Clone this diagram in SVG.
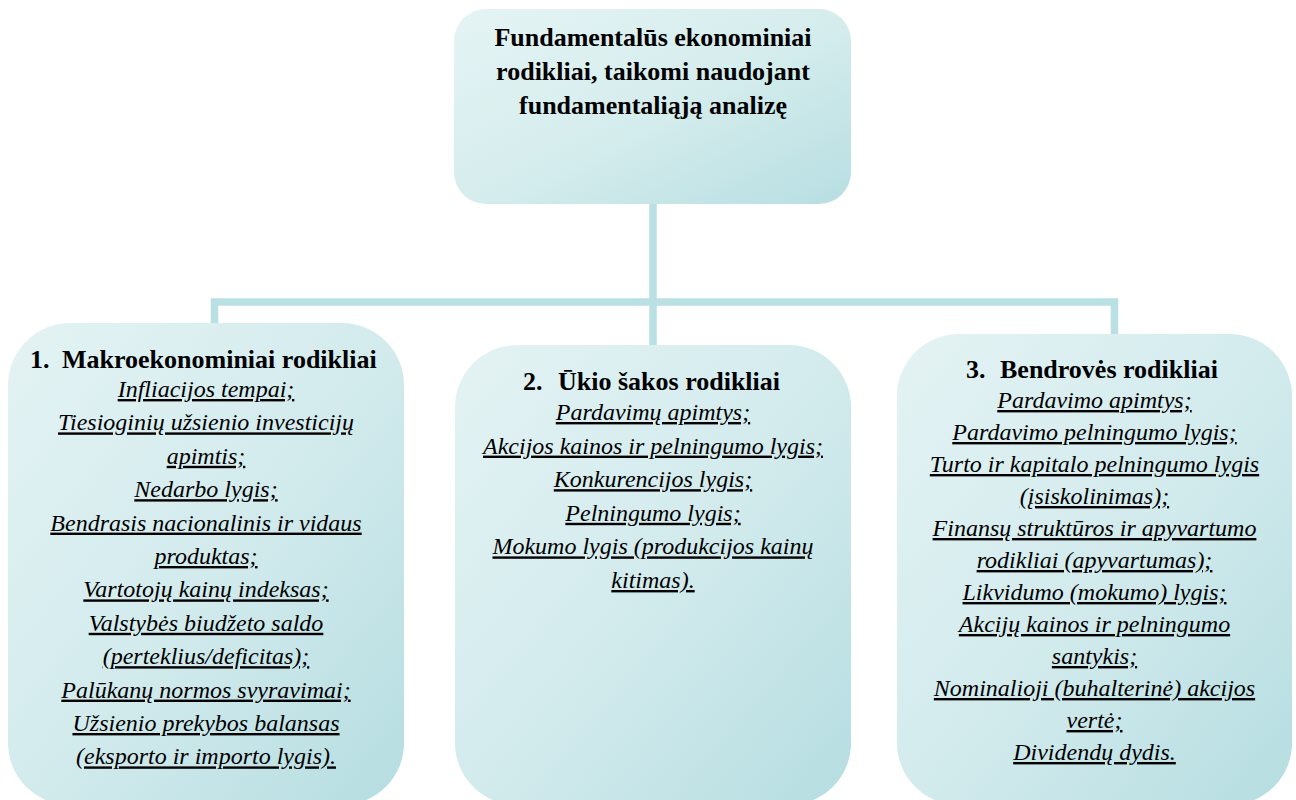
<svg xmlns="http://www.w3.org/2000/svg" width="1296" height="800" viewBox="0 0 1296 800">
  <defs>
    <linearGradient id="boxGrad" x1="0" y1="0" x2="1" y2="1">
      <stop offset="0" stop-color="#e4f3f4"/>
      <stop offset="0.5" stop-color="#d3ebed"/>
      <stop offset="1" stop-color="#b5dde1"/>
    </linearGradient>
    <linearGradient id="topGrad" x1="0" y1="0" x2="1" y2="1">
      <stop offset="0" stop-color="#e5f4f5"/>
      <stop offset="0.5" stop-color="#d6eded"/>
      <stop offset="1" stop-color="#b7dee2"/>
    </linearGradient>
  </defs>
  <style>
    .box { fill: url(#boxGrad); }
    .topbox { fill: url(#topGrad); }
    .conn { fill: none; stroke: #b9e0e3; stroke-width: 7.5; stroke-linejoin: miter; }
    .title { font-family: "Liberation Serif", "Times New Roman", serif; font-weight: bold; font-size: 26px; fill: #000; text-anchor: middle; }
    .head { font-family: "Liberation Serif", "Times New Roman", serif; font-weight: bold; font-size: 26px; fill: #000; }
    .item { font-family: "Liberation Serif", "Times New Roman", serif; font-style: italic; font-size: 24px; fill: #000; text-anchor: middle; text-decoration: underline; }
  </style>

  <g id="connectors">
    <path class="conn" d="M214.5,326 V302 H1114.5 V336"/>
    <path class="conn" d="M653,200 V348"/>
  </g>

  <g id="node-top">
    <rect class="topbox" x="454" y="9" width="397" height="195" rx="32" ry="32"/>
    <text class="title" x="653" y="46">Fundamentalūs ekonominiai</text>
    <text class="title" x="653" y="80">rodikliai, taikomi naudojant</text>
    <text class="title" x="653" y="114">fundamentaliąją analizę</text>
  </g>

  <g id="node-macro">
    <rect class="box" x="8" y="323" width="396" height="482" rx="62" ry="62"/>
    <text class="head" y="368"><tspan x="30">1.</tspan><tspan x="62">Makroekonominiai rodikliai</tspan></text>
    <text class="item" x="206" y="397">Infliacijos tempai;</text>
    <text class="item" x="206" y="430.4">Tiesioginių užsienio investicijų</text>
    <text class="item" x="206" y="463.8">apimtis;</text>
    <text class="item" x="206" y="497.2">Nedarbo lygis;</text>
    <text class="item" x="206" y="530.6">Bendrasis nacionalinis ir vidaus</text>
    <text class="item" x="206" y="564">produktas;</text>
    <text class="item" x="206" y="597.4">Vartotojų kainų indeksas;</text>
    <text class="item" x="206" y="630.8">Valstybės biudžeto saldo</text>
    <text class="item" x="206" y="664.2">(perteklius/deficitas);</text>
    <text class="item" x="206" y="697.6">Palūkanų normos svyravimai;</text>
    <text class="item" x="206" y="731">Užsienio prekybos balansas</text>
    <text class="item" x="206" y="764.4">(eksporto ir importo lygis).</text>
  </g>

  <g id="node-industry">
    <rect class="box" x="455" y="345" width="396" height="460" rx="62" ry="62"/>
    <text class="head" y="390"><tspan x="523">2.</tspan><tspan x="558">Ūkio šakos rodikliai</tspan></text>
    <text class="item" x="653" y="420">Pardavimų apimtys;</text>
    <text class="item" x="653" y="453.6">Akcijos kainos ir pelningumo lygis;</text>
    <text class="item" x="653" y="487.2">Konkurencijos lygis;</text>
    <text class="item" x="653" y="520.8">Pelningumo lygis;</text>
    <text class="item" x="653" y="554.4">Mokumo lygis (produkcijos kainų</text>
    <text class="item" x="653" y="588">kitimas).</text>
  </g>

  <g id="node-company">
    <rect class="box" x="897" y="334" width="395" height="471" rx="62" ry="62"/>
    <text class="head" y="378"><tspan x="966">3.</tspan><tspan x="1000">Bendrovės rodikliai</tspan></text>
    <text class="item" x="1094.5" y="408">Pardavimo apimtys;</text>
    <text class="item" x="1094.5" y="440">Pardavimo pelningumo lygis;</text>
    <text class="item" x="1094.5" y="472">Turto ir kapitalo pelningumo lygis</text>
    <text class="item" x="1094.5" y="504">(įsiskolinimas);</text>
    <text class="item" x="1094.5" y="536">Finansų struktūros ir apyvartumo</text>
    <text class="item" x="1094.5" y="568">rodikliai (apyvartumas);</text>
    <text class="item" x="1094.5" y="600">Likvidumo (mokumo) lygis;</text>
    <text class="item" x="1094.5" y="632">Akcijų kainos ir pelningumo</text>
    <text class="item" x="1094.5" y="664">santykis;</text>
    <text class="item" x="1094.5" y="696">Nominalioji (buhalterinė) akcijos</text>
    <text class="item" x="1094.5" y="728">vertė;</text>
    <text class="item" x="1094.5" y="760">Dividendų dydis.</text>
  </g>
</svg>
